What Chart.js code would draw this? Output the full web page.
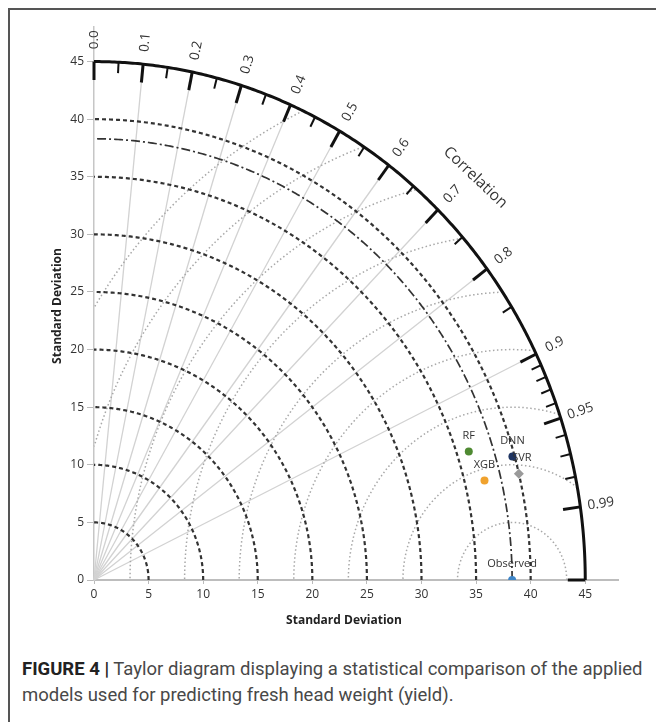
<!DOCTYPE html>
<html>
<head>
<meta charset="utf-8">
<script src="https://cdn.jsdelivr.net/npm/chart.js@4.4.1/dist/chart.umd.min.js"></script>
<style>
  html, body { margin: 0; padding: 0; background: #fff; }
  body { width: 656px; height: 722px; position: relative; overflow: hidden; }
  #frame {
    position: absolute; left: 8px; top: 8px; right: -10px; bottom: -10px;
    border-left: 2px solid #555; border-top: 2px solid #555;
  }
  #chart { position: absolute; left: 0; top: 0; }
  #caption {
    position: absolute; left: 22px; top: 656px; width: 630px;
    font-family: 'Liberation Sans Narrow', 'Roboto', sans-serif;
    font-size: 18.5px; line-height: 26px; color: #484848;
  }
  #caption b { color: #222; }
</style>
</head>
<body>
<div id="frame"></div>
<canvas id="chart" width="656" height="640"></canvas>
<div id="caption"><b>FIGURE 4 |</b> Taylor diagram displaying a statistical comparison of the applied models used for predicting fresh head weight (yield).</div>
<script>
// Data
const models = ['Observed', 'RF', 'XGB', 'DNN', 'SVR'];
const stdDev = [38.3, 36.1, 36.8, 39.8, 40.0];
const correlation = [1.0, 0.951, 0.972, 0.963, 0.973];

// Axes / grid
const sdTicks = [0, 5, 10, 15, 20, 25, 30, 35, 40, 45];
const sdMax = 45;
const stdArcs = [5, 10, 15, 20, 25, 30, 35, 40];
const rmsArcs = [5, 10, 15, 20, 25, 30, 35, 40, 45];
const corrMajor = [0, 0.1, 0.2, 0.3, 0.4, 0.5, 0.6, 0.7, 0.8, 0.9, 0.95, 0.99];
const corrMinor = [0.05, 0.15, 0.25, 0.35, 0.45, 0.55, 0.65, 0.75, 0.85,
                   0.91, 0.92, 0.93, 0.94, 0.96, 0.97, 0.98];
const corrLines = [0.1, 0.2, 0.3, 0.4, 0.5, 0.6, 0.7, 0.8, 0.9];

const pointColors = ['#3f86c8', '#4f8a32', '#f0a22e', '#1f3563', '#9a9a9a'];
const pointShapes = ['circle', 'circle', 'circle', 'circle', 'rectRot'];

const LABEL_FONT = "'Open Sans', Lato, sans-serif";

function toXY(s, r) {
  return { x: s * r, y: s * Math.sqrt(Math.max(0, 1 - r * r)) };
}

const taylorPlugin = {
  id: 'taylor',
  beforeDatasetsDraw(chart) {
    const { ctx } = chart;
    const xs = chart.scales.x, ys = chart.scales.y;
    const P = (x, y) => [xs.getPixelForValue(x), ys.getPixelForValue(y)];
    const o = P(0, 0);

    ctx.save();
    ctx.lineCap = 'butt';

    // radial correlation lines
    ctx.strokeStyle = '#d2d2d2';
    ctx.lineWidth = 1.3;
    corrLines.forEach(c => {
      const p = toXY(sdMax, c);
      const q = P(p.x, p.y);
      ctx.beginPath();
      ctx.moveTo(o[0], o[1]);
      ctx.lineTo(q[0], q[1]);
      ctx.stroke();
    });

    // RMS arcs around observed point
    const cx = stdDev[0];
    ctx.strokeStyle = '#a8a8a8';
    ctx.lineWidth = 1.5;
    ctx.setLineDash([1.5, 2.5]);
    rmsArcs.forEach(R => {
      ctx.beginPath();
      let pen = false;
      const N = 800;
      for (let i = 0; i <= N; i++) {
        const a = Math.PI * i / N;
        const x = cx + R * Math.cos(a), y = R * Math.sin(a);
        if (x >= 0 && x * x + y * y <= sdMax * sdMax) {
          const q = P(x, y);
          if (pen) ctx.lineTo(q[0], q[1]); else ctx.moveTo(q[0], q[1]);
          pen = true;
        } else pen = false;
      }
      ctx.stroke();
    });

    // std dev arcs
    const arc = (R) => {
      ctx.beginPath();
      const N = 300;
      for (let i = 0; i <= N; i++) {
        const a = (Math.PI / 2) * i / N;
        const q = P(R * Math.cos(a), R * Math.sin(a));
        if (i === 0) ctx.moveTo(q[0], q[1]); else ctx.lineTo(q[0], q[1]);
      }
      ctx.stroke();
    };
    ctx.strokeStyle = '#333';
    ctx.lineWidth = 2.2;
    ctx.setLineDash([4, 3]);
    stdArcs.forEach(arc);

    // observed std arc (dash-dot)
    ctx.lineWidth = 1.7;
    ctx.setLineDash([9, 3, 2, 3]);
    arc(stdDev[0]);

    // outer arc
    ctx.setLineDash([]);
    ctx.strokeStyle = '#111';
    ctx.lineWidth = 3;
    arc(sdMax);

    // ticks
    const tick = (c, len, w) => {
      const a = toXY(sdMax, c), b = toXY(sdMax - len, c);
      const qa = P(a.x, a.y), qb = P(b.x, b.y);
      ctx.lineWidth = w;
      ctx.beginPath();
      ctx.moveTo(qa[0], qa[1]);
      ctx.lineTo(qb[0], qb[1]);
      ctx.stroke();
    };
    corrMajor.concat([1]).forEach(c => tick(c, 1.6, 3));
    corrMinor.forEach(c => tick(c, 0.95, 2));

    // correlation labels
    ctx.fillStyle = '#333';
    ctx.font = '13.5px ' + LABEL_FONT;
    ctx.textAlign = 'center';
    ctx.textBaseline = 'middle';
    corrMajor.forEach(c => {
      const p = toXY(46.9, c);
      const q = P(p.x, p.y);
      const ang = Math.atan2(q[1] - o[1], q[0] - o[0]);
      ctx.save();
      ctx.translate(q[0], q[1]);
      ctx.rotate(ang);
      ctx.fillText(c.toFixed(c >= 0.95 ? 2 : 1), 0, 0);
      ctx.restore();
    });

    // "Correlation" title
    const pc = toXY(49.4, Math.cos(Math.PI / 4));
    const qc = P(pc.x, pc.y);
    const angc = Math.atan2(qc[1] - o[1], qc[0] - o[0]);
    ctx.save();
    ctx.translate(qc[0], qc[1]);
    ctx.rotate(angc + Math.PI / 2);
    ctx.font = '15.5px ' + LABEL_FONT;
    ctx.fillText('Correlation', 0, 0);
    ctx.restore();

    // axis titles
    ctx.font = 'bold 12px ' + LABEL_FONT;
    ctx.fillStyle = '#222';
    ctx.fillText('Standard Deviation', 344, 621);
    ctx.save();
    ctx.translate(58, 306);
    ctx.rotate(-Math.PI / 2);
    ctx.fillText('Standard Deviation', 0, 0);
    ctx.restore();

    ctx.restore();
  },
  afterDatasetsDraw(chart) {
    const { ctx } = chart;
    const meta = chart.getDatasetMeta(0);
    ctx.save();
    ctx.fillStyle = '#333';
    ctx.font = '11px ' + LABEL_FONT;
    ctx.textAlign = 'center';
    ctx.textBaseline = 'middle';
    meta.data.forEach((pt, i) => {
      ctx.fillText(models[i], pt.x + (i === 4 ? 3 : 0), pt.y - 16);
    });
    ctx.restore();
  }
};

const points = models.map((m, i) => toXY(stdDev[i], correlation[i]));

const tickFont = { family: LABEL_FONT, size: 12 };

new Chart(document.getElementById('chart'), {
  type: 'scatter',
  data: {
    datasets: [{
      data: points,
      backgroundColor: pointColors,
      borderColor: pointColors,
      pointStyle: pointShapes,
      pointRadius: [4, 4, 4, 4, 5],
      borderWidth: 0
    }]
  },
  options: {
    responsive: false,
    animation: false,
    layout: { padding: { top: 27, right: 38, left: 0, bottom: 0 } },
    plugins: { legend: { display: false }, tooltip: { enabled: false } },
    scales: {
      x: {
        type: 'linear', min: 0, max: 48,
        afterBuildTicks: s => { s.ticks = sdTicks.map(v => ({ value: v })); },
        afterFit: s => { s.height = 60; },
        ticks: { color: '#333', font: tickFont, padding: 3, maxRotation: 0 },
        grid: { drawOnChartArea: false, tickLength: 4, color: '#bbb' },
        border: { color: '#bdbdbd', width: 2 }
      },
      y: {
        type: 'linear', min: 0, max: 48,
        afterBuildTicks: s => { s.ticks = sdTicks.map(v => ({ value: v })); },
        afterFit: s => { s.width = 94; },
        ticks: { color: '#333', font: tickFont, padding: 3 },
        grid: { drawOnChartArea: false, tickLength: 7, color: '#bbb' },
        border: { color: '#c6c6c6', width: 1.5 }
      }
    }
  },
  plugins: [taylorPlugin]
});
</script>
</body>
</html>
